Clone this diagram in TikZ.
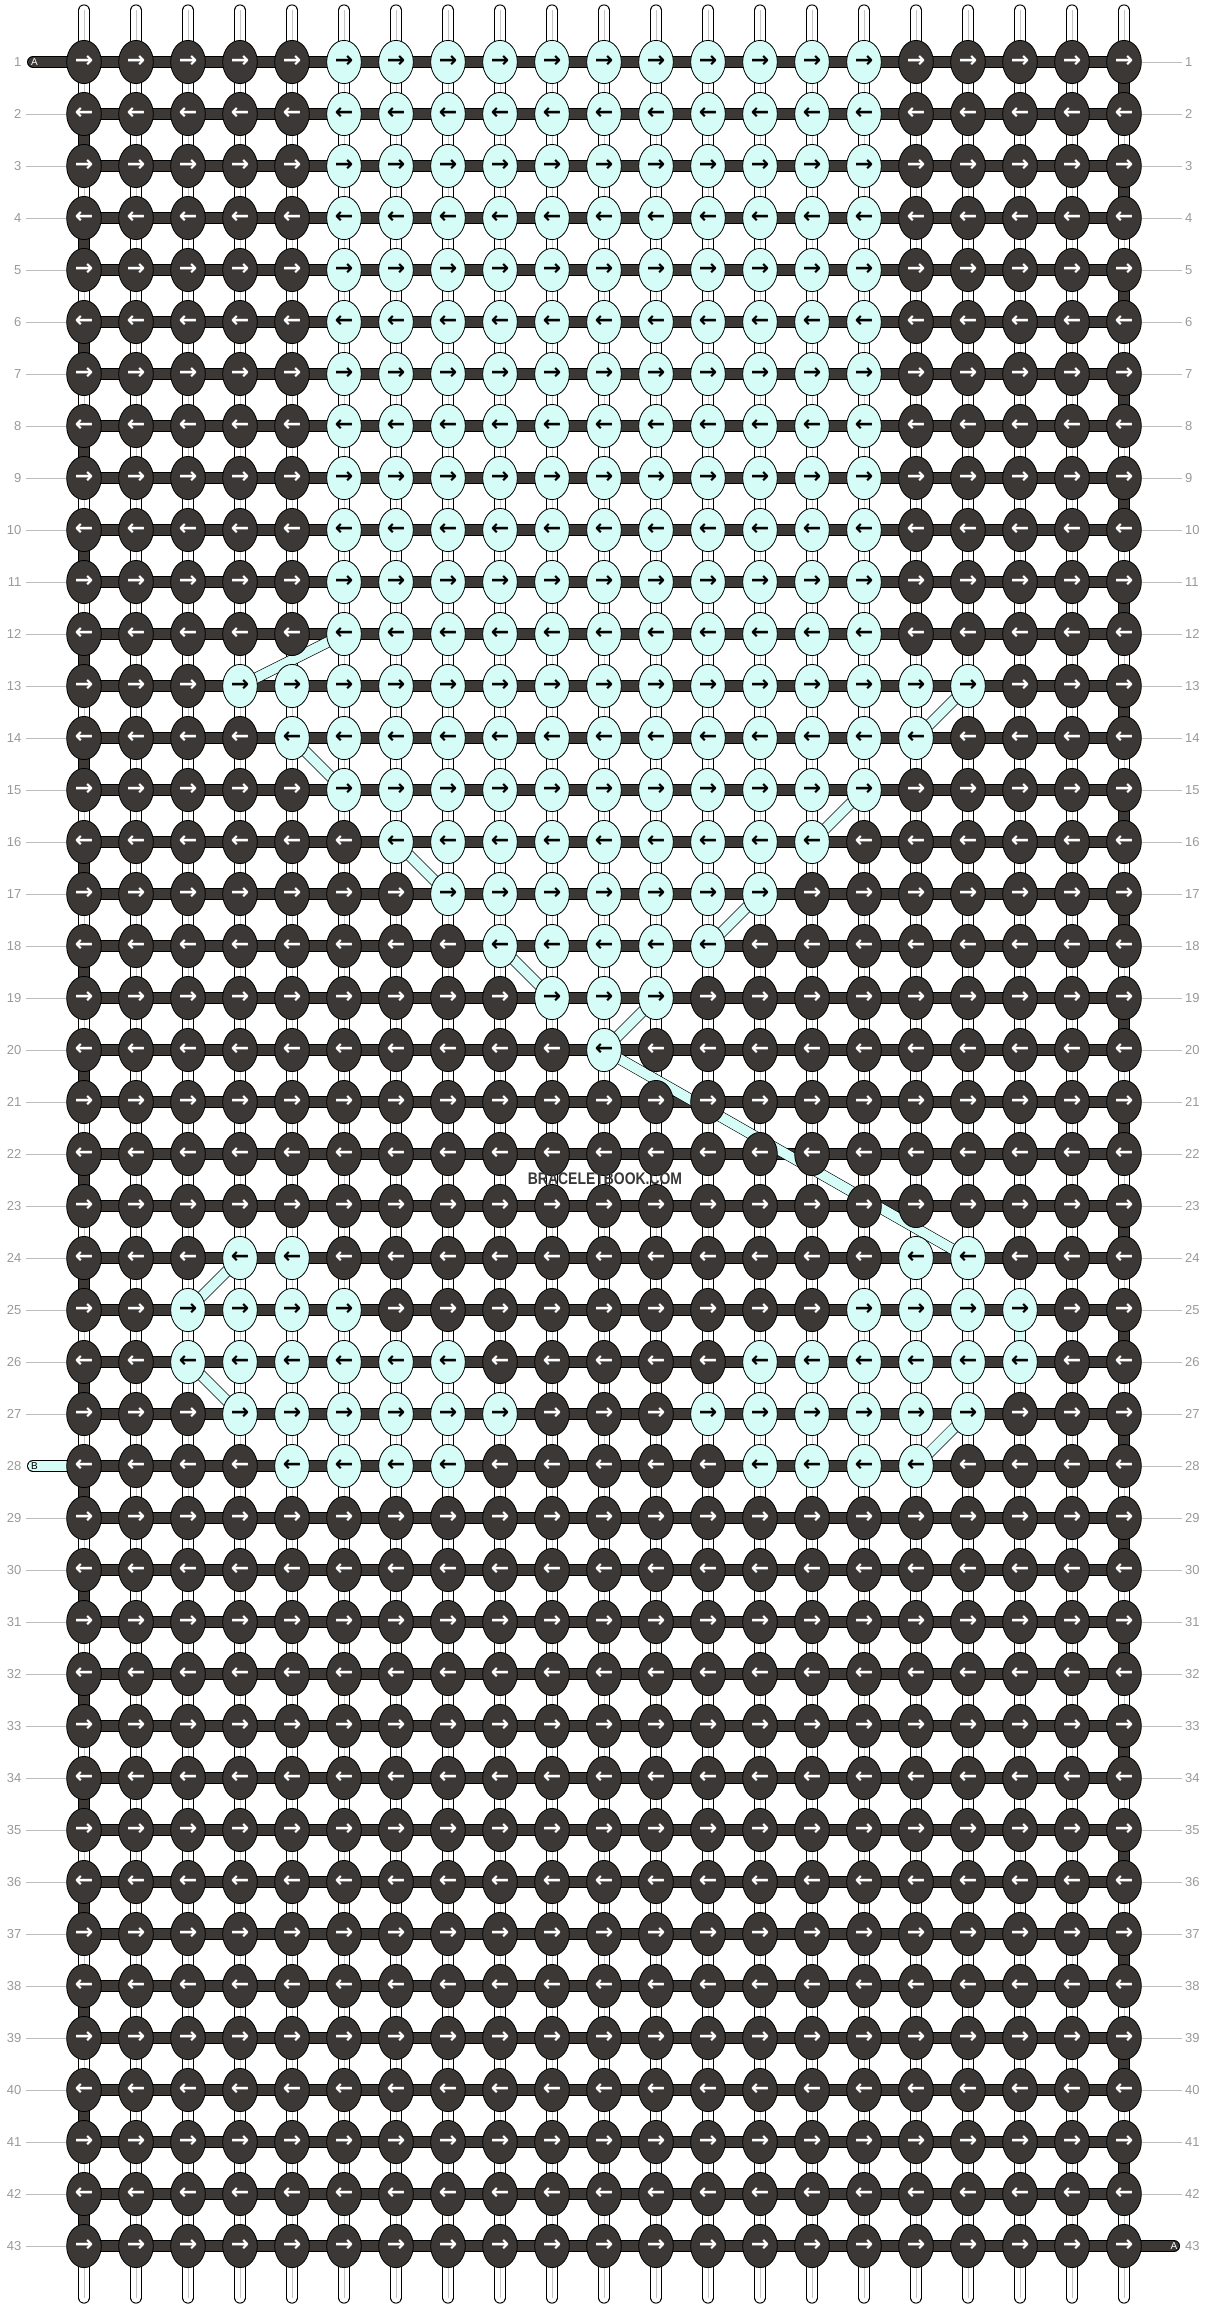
\documentclass[tikz,border=0pt]{standalone}
\usepackage{fontspec}
\setmainfont{Liberation Sans}
\newfontfamily\arrowfont{DejaVu Sans}
\usetikzlibrary{shapes.geometric}
\definecolor{dk}{HTML}{3C3835}
\definecolor{lt}{HTML}{D5FCF7}
\definecolor{lblc}{HTML}{9A9A9A}
\definecolor{lnc}{HTML}{BDBDBD}
\definecolor{midc}{HTML}{C4C4C4}
\definecolor{wmc}{HTML}{383838}
\pgfdeclarelayer{threads}\pgfdeclarelayer{bars}\pgfdeclarelayer{bands}
\pgfsetlayers{threads,bars,bands,main}
\newcommand\rng[2]{\ifnum\cc<#1 \else\ifnum\cc>#2 \else\gdef\kc{lt}\gdef\tc{black}\fi\fi}
\newcommand\pickcolor{\gdef\kc{dk}\gdef\tc{white}%
 \ifcase\rr\space
 \or\rng{6}{16}\or\rng{6}{16}\or\rng{6}{16}\or\rng{6}{16}%
 \or\rng{6}{16}\or\rng{6}{16}\or\rng{6}{16}\or\rng{6}{16}%
 \or\rng{6}{16}\or\rng{6}{16}\or\rng{6}{16}\or\rng{6}{16}%
 \or\rng{4}{18}% 13
 \or\rng{5}{17}% 14
 \or\rng{6}{16}% 15
 \or\rng{7}{15}% 16
 \or\rng{8}{14}% 17
 \or\rng{9}{13}% 18
 \or\rng{10}{12}% 19
 \or\rng{11}{11}% 20
 \or\or\or% 21-23
 \or\rng{4}{5}\rng{17}{18}% 24
 \or\rng{3}{6}\rng{16}{19}% 25
 \or\rng{3}{8}\rng{14}{19}% 26
 \or\rng{4}{9}\rng{13}{18}% 27
 \or\rng{5}{8}\rng{14}{17}% 28
 \fi}
\tikzset{
 knot/.style={ellipse, draw=black, line width=0.8pt, minimum width=34.6pt, minimum height=43.2pt, inner sep=0pt, font=\arrowfont\bfseries\fontsize{22}{22}\selectfont},
 hbar/.style={draw=black, line width=0.9pt, double=dk, double distance=10.6pt},
 hbarB/.style={draw=black, line width=0.9pt, double=lt, double distance=10.6pt},
 vdark/.style={draw=black, line width=0.9pt, double=dk, double distance=10.2pt},
 vlight/.style={draw=black, line width=0.9pt, double=lt, double distance=10.2pt},
 vthread/.style={draw=black, line width=0.9pt, double=white, double distance=10.2pt, line cap=round},
 vmid/.style={draw=midc, line width=0.9pt},
 band/.style={draw=black, line width=0.6pt, double=lt, double distance=9.8pt},
 lbl/.style={text=lblc, inner sep=0pt, font=\fontsize{13}{13}\selectfont},
 lblline/.style={draw=lnc, line width=0.9pt},
 pilltxt/.style={inner sep=0pt, font=\fontsize{10}{10}\selectfont}
}
\begin{document}
\begin{tikzpicture}[x=1pt,y=-1pt]
\useasboundingbox (0,0) rectangle (1208,2308);
% knots
\foreach \rr in {1,...,43}{
  \foreach \cc in {1,...,21}{
    \pickcolor
    \ifodd\rr\space\def\arr{→}\else\def\arr{←}\fi
    \node[knot, fill=\kc, text=\tc] (k-\rr-\cc) at ({84+52*(\cc-1)}, {62+52*(\rr-1)}) {\arr};
  }
}
% vertical threads
\begin{pgfonlayer}{threads}
\path[fill=white] (0,0) rectangle (1208,2308);
\foreach \cc in {1,...,21}{
  \coordinate (t-\cc) at ({84+52*(\cc-1)}, 10.4);
  \coordinate (b-\cc) at ({84+52*(\cc-1)}, 2297.6);
  \draw[vthread] (t-\cc) -- (b-\cc);
  \draw[vmid] (t-\cc) -- (b-\cc);
}
\end{pgfonlayer}
% horizontal bars and edge turns
\begin{pgfonlayer}{bars}
\foreach \rr in {1,...,43}{
  \draw[hbar] (k-\rr-1.center) -- (k-\rr-21.center);
}
\foreach \rr [evaluate=\rr as \nx using int(\rr+1)] in {2,4,...,42}{
  \draw[vdark] (k-\rr-1.center) -- (k-\nx-1.center);
}
\foreach \rr [evaluate=\rr as \nx using int(\rr+1)] in {1,3,...,41}{
  \draw[vdark] (k-\rr-21.center) -- (k-\nx-21.center);
}
\draw[vlight] (k-25-19.center) -- (k-26-19.center);
\coordinate (pA) at (33.2, 62);
\coordinate (pB) at (33.2, 1466);
\coordinate (pA2) at (1173.8, 2246);
\draw[hbar, line cap=round] (pA) -- (k-1-1.center);
\draw[hbarB, line cap=round] (pB) -- (k-28-1.center);
\draw[hbar, line cap=round] (k-43-21.center) -- (pA2);
\end{pgfonlayer}
% light thread bands
\begin{pgfonlayer}{bands}
\foreach \a/\b in {12-6/13-4, 14-5/15-6, 16-7/17-8, 18-9/19-10,
                   13-18/14-17, 15-16/16-15, 17-14/18-13, 19-12/20-11,
                   20-11/24-18, 24-4/25-3, 26-3/27-4, 27-18/28-17}{
  \draw[band] (k-\a.center) -- (k-\b.center);
}
\end{pgfonlayer}
% pill texts
\node[pilltxt, text=white] (tA) at (34.5, 62) {A};
\node[pilltxt, text=black] (tB) at (34.5, 1466) {B};
\node[pilltxt, text=white] (tA2) at (1174, 2246) {A};
% row labels
\foreach \rr in {1,...,43}{
  \node[lbl, anchor=east] (ll-\rr) at (21.5, {62+52*(\rr-1)}) {\rr};
  \node[lbl, anchor=west] (lr-\rr) at (1185, {62+52*(\rr-1)}) {\rr};
  \ifnum\rr=1 \else\ifnum\rr=28 \else
    \draw[lblline] ([xshift=4.5pt]ll-\rr.east) -- (k-\rr-1.west);
  \fi\fi
  \ifnum\rr=43 \else
    \draw[lblline] (k-\rr-21.east) -- ([xshift=-3.5pt]lr-\rr.west);
  \fi
}
% watermark
\node[text=wmc, inner sep=0pt, font=\bfseries\fontsize{16.8}{17}\selectfont] (wm) at (605, 1179) {\scalebox{0.83}[1]{BRACELETBOOK.COM}};
\end{tikzpicture}
\end{document}
